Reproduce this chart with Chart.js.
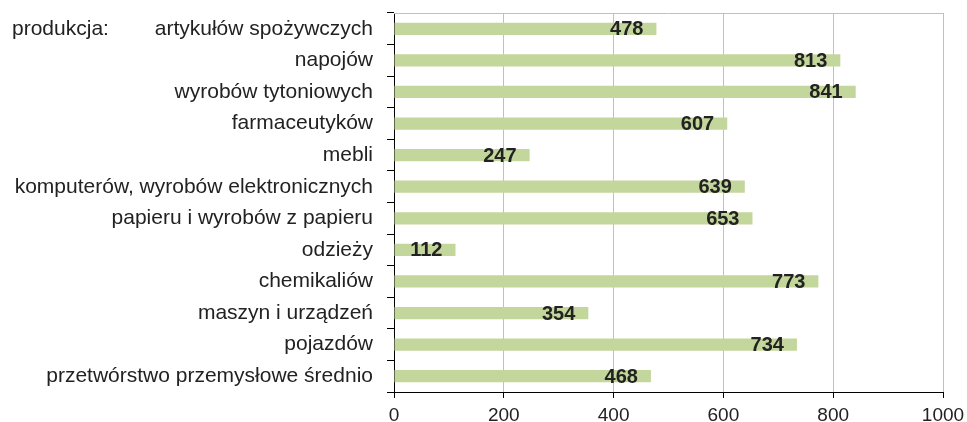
<!DOCTYPE html>
<html>
<head>
<meta charset="utf-8">
<script src="https://cdn.jsdelivr.net/npm/chart.js@4/dist/chart.umd.min.js"></script>
<style>
  html, body { margin: 0; padding: 0; background: #fff; }
  #wrap { width: 967px; height: 422px; }
</style>
</head>
<body>
<div id="wrap"><canvas id="chart"></canvas></div>
<script>
  // Categories and values
  const categories = [
    "artykułów spożywczych",
    "napojów",
    "wyrobów tytoniowych",
    "farmaceutyków",
    "mebli",
    "komputerów, wyrobów elektronicznych",
    "papieru i wyrobów z papieru",
    "odzieży",
    "chemikaliów",
    "maszyn i urządzeń",
    "pojazdów",
    "przetwórstwo przemysłowe średnio"
  ];
  const values = [478, 813, 841, 607, 247, 639, 653, 112, 773, 354, 734, 468];
  const xTicks = [0, 200, 400, 600, 800, 1000];
  const groupLabel = "produkcja:";

  const textColor = "#222";
  const fontFamily = "'Liberation Sans', Arial, sans-serif";

  // Gray line along the top of the plot area
  const plotFrame = {
    id: "plotFrame",
    beforeDatasetsDraw(chart) {
      const { ctx, chartArea: a } = chart;
      ctx.save();
      ctx.strokeStyle = "#c0c0c0";
      ctx.lineWidth = 1;
      ctx.beginPath();
      ctx.moveTo(a.left, a.top + 0.5);
      ctx.lineTo(a.right, a.top + 0.5);
      ctx.stroke();
      ctx.restore();
    }
  };

  // Value labels at the end of each bar, plus the group label
  const barLabels = {
    id: "barLabels",
    afterDatasetsDraw(chart) {
      const { ctx } = chart;
      const meta = chart.getDatasetMeta(0);
      ctx.save();
      ctx.font = "bold 20px " + fontFamily;
      ctx.fillStyle = textColor;
      ctx.textAlign = "right";
      ctx.textBaseline = "middle";
      meta.data.forEach((bar, i) => {
        ctx.fillText(String(values[i]), bar.x - 13, bar.y + 1);
      });
      ctx.font = "21px " + fontFamily;
      ctx.textAlign = "left";
      const y0 = chart.scales.y.getPixelForValue(0);
      ctx.fillText(groupLabel, 12, y0);
      ctx.restore();
    }
  };

  new Chart(document.getElementById("chart"), {
    type: "bar",
    data: {
      labels: categories,
      datasets: [{
        data: values,
        backgroundColor: "#c3d69b",
        borderWidth: 0,
        barPercentage: 0.39,
        categoryPercentage: 1.0
      }]
    },
    options: {
      indexAxis: "y",
      responsive: true,
      maintainAspectRatio: false,
      animation: false,
      layout: {
        padding: { left: 0, right: 24, top: 13, bottom: 0 }
      },
      plugins: {
        legend: { display: false },
        tooltip: { enabled: false }
      },
      scales: {
        x: {
          min: 0,
          max: 1000,
          afterBuildTicks(scale) {
            scale.ticks = xTicks.map(v => ({ value: v }));
          },
          afterFit(scale) {
            scale.height = 30;
            scale.paddingLeft = 0;
            scale.paddingRight = 0;
          },
          grid: {
            color: "#c0c0c0",
            tickColor: "#000",
            tickLength: 6,
            lineWidth: 1
          },
          border: { display: true, color: "#000", width: 1 },
          ticks: {
            color: textColor,
            padding: 6,
            maxRotation: 0,
            font: { size: 19, family: fontFamily },
            callback: (v) => String(v)
          }
        },
        y: {
          afterFit(scale) {
            scale.width = 394;
            scale.paddingTop = 0;
            scale.paddingBottom = 0;
          },
          grid: {
            drawOnChartArea: false,
            drawTicks: true,
            tickLength: 7,
            tickColor: "#000",
            offset: true
          },
          border: { display: true, color: "#000", width: 1 },
          ticks: {
            color: textColor,
            padding: 14,
            autoSkip: false,
            font: { size: 21, family: fontFamily }
          }
        }
      }
    },
    plugins: [plotFrame, barLabels]
  });
</script>
</body>
</html>
